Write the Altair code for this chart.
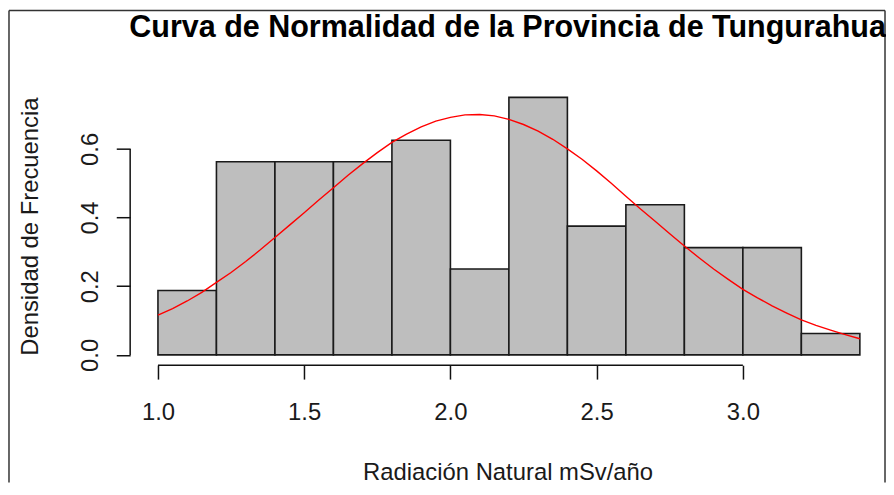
import altair as alt
import pandas as pd

# Histogram (density scale), bins of width 0.2
bin_start = [1.0, 1.2, 1.4, 1.6, 1.8, 2.0, 2.2, 2.4, 2.6, 2.8, 3.0, 3.2]
bin_end = [1.2, 1.4, 1.6, 1.8, 2.0, 2.2, 2.4, 2.6, 2.8, 3.0, 3.2, 3.4]
density = [0.1875, 0.5625, 0.5625, 0.5625, 0.625, 0.25, 0.75, 0.375, 0.4375, 0.3125, 0.3125, 0.0625]

# Red normal curve, values every 0.05
curve_x = [1.00, 1.05, 1.10, 1.15, 1.20, 1.25, 1.30, 1.35, 1.40, 1.45, 1.50, 1.55, 1.60,
           1.65, 1.70, 1.75, 1.80, 1.85, 1.90, 1.95, 2.00, 2.05, 2.10, 2.15, 2.20,
           2.25, 2.30, 2.35, 2.40, 2.45, 2.50, 2.55, 2.60, 2.65, 2.70, 2.75, 2.80,
           2.85, 2.90, 2.95, 3.00, 3.05, 3.10, 3.15, 3.20, 3.25, 3.30, 3.35, 3.40]
curve_y = [0.116, 0.135, 0.157, 0.182, 0.211, 0.240, 0.272, 0.306, 0.342, 0.378, 0.414, 0.451, 0.487,
           0.523, 0.557, 0.589, 0.619, 0.643, 0.664, 0.681, 0.692, 0.699, 0.700, 0.696, 0.686,
           0.671, 0.652, 0.628, 0.600, 0.570, 0.536, 0.500, 0.462, 0.425, 0.389, 0.353, 0.317,
           0.283, 0.250, 0.220, 0.191, 0.166, 0.143, 0.122, 0.102, 0.086, 0.072, 0.059, 0.047]

x_ticks = [1.0, 1.5, 2.0, 2.5, 3.0]
y_ticks = [0.0, 0.2, 0.4, 0.6]

TITLE = "Curva de Normalidad de la Provincia de Tungurahua"
X_TITLE = "Radiación Natural mSv/año"
Y_TITLE = "Densidad de Frecuencia"

W, H = 760, 280
FONT = "Liberation Sans"

hist_df = pd.DataFrame({"start": bin_start, "end": bin_end, "density": density,
                        "zero": [0.0] * len(density)})
curve_df = pd.DataFrame({"start": curve_x, "density": curve_y})
xline_df = pd.DataFrame({"start": [min(x_ticks)], "end": [max(x_ticks)]})
yline_df = pd.DataFrame({"density": [min(y_ticks)], "zero": [max(y_ticks)]})
one_df = pd.DataFrame({"k": [0]})

xscale = alt.Scale(domain=[0.905, 3.486], nice=False, zero=False)
yscale = alt.Scale(domain=[-0.03, 0.78], nice=False, zero=False)

xaxis = alt.Axis(values=x_ticks, format=".1f", title=X_TITLE, domain=False, grid=False,
                 tickSize=14, tickWidth=1.5, tickColor="#111",
                 labelFont=FONT, labelFontSize=24, labelColor="#1a1a1a", labelPadding=22,
                 labelFlush=False,
                 titleFont=FONT, titleFontSize=24, titleFontWeight="normal", titleColor="#1a1a1a",
                 titleX=W / 2, titleY=115, titleAlign="center", titleBaseline="alphabetic")
yaxis = alt.Axis(values=y_ticks, format=".1f", title=Y_TITLE, domain=False, grid=False,
                 tickSize=14, tickWidth=1.5, tickColor="#111",
                 labelFont=FONT, labelFontSize=24, labelColor="#1a1a1a", labelPadding=14,
                 labelAngle=270, labelAlign="center", labelBaseline="bottom", labelFlush=False,
                 titleFont=FONT, titleFontSize=24, titleFontWeight="normal", titleColor="#1a1a1a",
                 titleAngle=270, titleX=-93, titleY=H / 2, titleAlign="center",
                 titleBaseline="alphabetic")


def X(field):
    return alt.X(f"{field}:Q", scale=xscale, axis=xaxis)


def Y(field):
    return alt.Y(f"{field}:Q", scale=yscale, axis=yaxis)


bars = alt.Chart(hist_df).mark_rect(fill="#BEBEBE", stroke="#1a1a1a", strokeWidth=1.6).encode(
    x=X("start"), x2="end", y=Y("density"), y2="zero")

curve = alt.Chart(curve_df).mark_line(color="#FF0000", strokeWidth=1.4).encode(
    x=X("start"), y=Y("density"))

x_line = alt.Chart(xline_df).mark_rule(color="#111", strokeWidth=1.5).encode(
    x=X("start"), x2="end", y=alt.value(H))

y_line = alt.Chart(yline_df).mark_rule(color="#111", strokeWidth=1.5).encode(
    y=Y("density"), y2="zero", x=alt.value(0))

frame_left = alt.Chart(one_df).mark_rule(color="#333", strokeWidth=1.5).encode(
    x=alt.value(-122), y=alt.value(-77), y2=alt.value(398))
frame_top = alt.Chart(one_df).mark_rule(color="#333", strokeWidth=1.5).encode(
    x=alt.value(-122), x2=alt.value(W), y=alt.value(-77))
frame_right = alt.Chart(one_df).mark_rule(color="#333", strokeWidth=1.5).encode(
    x=alt.value(W), y=alt.value(-77), y2=alt.value(398))

chart = alt.layer(bars, curve, x_line, y_line, frame_left, frame_top, frame_right).properties(
    width=W, height=H,
    title=alt.TitleParams(TITLE, font=FONT, fontSize=30.7, fontWeight="bold", color="#000",
                          anchor="middle", frame="group", offset=0, dy=34),
    padding=0,
).configure(background="white", view=alt.ViewConfig(stroke=None))

chart.save("out.html", embed_options={"renderer": "svg", "actions": False})
